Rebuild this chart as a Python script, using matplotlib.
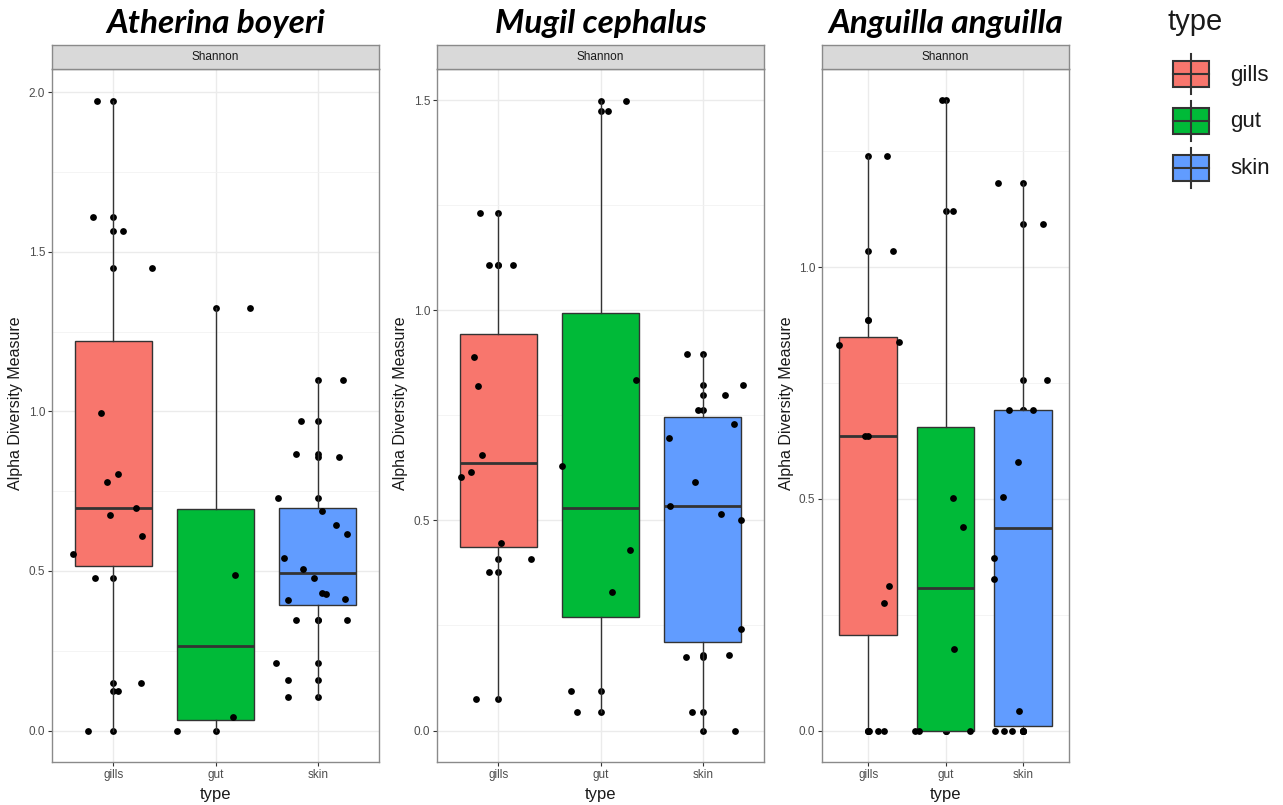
# Shannon alpha diversity per tissue type for three fish species
# boxplot + centre points + jittered points, ggplot theme_bw look

import matplotlib
matplotlib.use('Agg')
import matplotlib.pyplot as plt
from matplotlib.patches import Rectangle
from matplotlib.ticker import MultipleLocator, FormatStrFormatter

plt.rcParams['font.family'] = ['Liberation Sans', 'DejaVu Sans']

species = ['Atherina boyeri', 'Mugil cephalus', 'Anguilla anguilla']
types = ['gills', 'gut', 'skin']
colors = ['#F8766D', '#00BA38', '#619CFF']

# Atherina boyeri
ab_gills = [1.974, 1.61, 1.565, 1.448, 0.994, 0.803, 0.778, 0.697, 0.674, 0.608, 0.554, 0.478, 0.149, 0.123, 0.0]
ab_gills_jit = [-0.164, -0.196, 0.098, 0.375, -0.118, 0.045, -0.066, 0.222, -0.036, 0.28, -0.396, -0.18, 0.27, 0.045, -0.25]
ab_gut = [1.323, 0.486, 0.042, 0.0]
ab_gut_jit = [0.337, 0.186, 0.176, -0.375]
ab_skin = [1.099, 0.970, 0.867, 0.856, 0.730, 0.687, 0.643, 0.616, 0.540, 0.506, 0.478, 0.431, 0.429, 0.411, 0.409, 0.345, 0.345, 0.210, 0.159, 0.105]
ab_skin_jit = [0.252, -0.16, -0.212, 0.206, -0.392, 0.046, 0.183, 0.288, -0.333, -0.147, -0.039, 0.046, 0.085, 0.265, -0.29, -0.212, 0.288, -0.408, -0.287, -0.287]

# Mugil cephalus
mc_gills = [1.231, 1.108, 1.108, 0.888, 0.819, 0.656, 0.616, 0.603, 0.447, 0.408, 0.377, 0.076]
mc_gills_jit = [-0.179, -0.092, 0.146, -0.238, -0.195, -0.16, -0.27, -0.367, 0.022, 0.32, -0.092, -0.221]
mc_gut = [1.499, 1.473, 0.833, 0.629, 0.429, 0.330, 0.093, 0.043]
mc_gut_jit = [0.253, 0.075, 0.35, -0.375, 0.292, 0.111, -0.288, -0.233]
mc_skin = [0.896, 0.823, 0.798, 0.762, 0.729, 0.695, 0.591, 0.535, 0.514, 0.502, 0.242, 0.179, 0.174, 0.043, 0.0]
mc_skin_jit = [-0.152, 0.39, 0.218, -0.049, 0.307, -0.331, -0.074, -0.318, 0.183, 0.371, 0.371, 0.257, -0.168, -0.1, 0.32]

# Anguilla anguilla
aa_gills = [1.241, 1.036, 0.886, 0.838, 0.832, 0.636, 0.636, 0.313, 0.276, 0.0, 0.0, 0.0]
aa_gills_jit = [0.245, 0.314, 0.0, 0.394, -0.38, -0.04, 0.0, 0.27, 0.205, 0.01, 0.12, 0.205]
aa_gut = [1.360, 1.121, 0.501, 0.439, 0.175, 0.0, 0.0, 0.0]
aa_gut_jit = [-0.042, 0.103, 0.103, 0.223, 0.115, -0.397, -0.346, 0.321]
aa_skin = [1.182, 1.093, 0.757, 0.692, 0.692, 0.580, 0.503, 0.372, 0.328, 0.042, 0.0, 0.0, 0.0, 0.0]
aa_skin_jit = [-0.315, 0.265, 0.316, -0.18, 0.128, -0.064, -0.256, -0.372, -0.372, -0.05, -0.36, -0.245, -0.141, 0.0]

panels = [
    ([ab_gills, ab_gut, ab_skin], [ab_gills_jit, ab_gut_jit, ab_skin_jit]),
    ([mc_gills, mc_gut, mc_skin], [mc_gills_jit, mc_gut_jit, mc_skin_jit]),
    ([aa_gills, aa_gut, aa_skin], [aa_gills_jit, aa_gut_jit, aa_skin_jit]),
]

W, H = 1283, 805
fig = plt.figure(figsize=(W / 100, H / 100), dpi=100)

# panel extents in pixels (left, right); strip 45-69, plot 69-762
lefts = [52, 437, 822]
rights = [379, 764, 1069]
strip_top, plot_top, plot_bot = 45, 69, 762

def fx(px):
    return px / W

def fy(py):
    return 1 - py / H

edge = '#333333'
border = '#8a8a8a'

for k, (vals, jits) in enumerate(panels):
    l, r = lefts[k], rights[k]
    ax = fig.add_axes([fx(l), fy(plot_bot), fx(r - l), (plot_bot - plot_top) / H])
    sax = fig.add_axes([fx(l), fy(plot_top), fx(r - l), (plot_top - strip_top) / H])

    for i in range(3):
        # centre points (mostly hidden by the box)
        ax.scatter([i] * len(vals[i]), vals[i], s=24, color='black', zorder=2, linewidths=0)
        ax.boxplot(vals[i], positions=[i], widths=0.75, patch_artist=True,
                   showfliers=False, showcaps=False, whis=1.5, zorder=3,
                   boxprops=dict(facecolor=colors[i], edgecolor=edge, linewidth=1.0),
                   whiskerprops=dict(color=edge, linewidth=1.0),
                   medianprops=dict(color=edge, linewidth=2.0))
        ax.scatter([i + j for j in jits[i]], vals[i], s=24, color='black', zorder=4, linewidths=0)

    hi = max(max(v) for v in vals)
    pad = 0.05 * hi
    ax.set_ylim(-pad, hi + pad)
    ax.set_xlim(-0.6, 2.6)
    ax.set_xticks(range(3))
    ax.set_xticklabels(types)
    ax.yaxis.set_major_locator(MultipleLocator(0.5))
    ax.yaxis.set_minor_locator(MultipleLocator(0.25))
    ax.yaxis.set_major_formatter(FormatStrFormatter('%.1f'))
    ax.set_axisbelow(True)
    ax.grid(True, which='major', color='#EBEBEB', linewidth=1.0)
    ax.grid(True, which='minor', axis='y', color='#F2F2F2', linewidth=0.6)
    ax.tick_params(which='major', length=3, width=0.8, color=edge, labelcolor='#4D4D4D',
                   labelsize=8.5, pad=2)
    ax.tick_params(which='minor', length=0)
    for sp in ax.spines.values():
        sp.set_color(border)
        sp.set_linewidth(1.0)
    ax.set_xlabel('type', fontsize=12, labelpad=4, color='#1A1A1A')

    sax.set_facecolor('#D9D9D9')
    sax.set_xticks([])
    sax.set_yticks([])
    for sp in sax.spines.values():
        sp.set_color(border)
        sp.set_linewidth(1.0)
    sax.text(0.5, 0.5, 'Shannon', ha='center', va='center', fontsize=8.5,
             color='#1A1A1A', transform=sax.transAxes)

    # y label, centred on strip + panel
    fig.text(fx(l - 36), fy((strip_top + plot_bot) / 2), 'Alpha Diversity Measure',
             rotation=90, ha='center', va='center', fontsize=11.5, color='#1A1A1A')

    fig.text(fx((l + r) / 2), fy(23), species[k], ha='center', va='center',
             fontsize=24, fontweight='bold', style='italic',
             family=['Lato', 'DejaVu Sans'])

# legend drawn as small boxplot keys
lax = fig.add_axes([0, 0, 1, 1])
lax.set_xlim(0, W)
lax.set_ylim(H, 0)
lax.axis('off')
lax.text(1168, 22, 'type', ha='left', va='center', fontsize=21, color='#1A1A1A')
key_y = [74, 121, 168]
for i, t in enumerate(types):
    yc = key_y[i]
    lax.plot([1191, 1191], [yc - 20, yc + 20], color=edge, lw=1.5)
    lax.add_patch(Rectangle((1173, yc - 13), 36, 26, facecolor=colors[i], edgecolor=edge, lw=1.5))
    lax.plot([1173, 1209], [yc, yc], color=edge, lw=1.5)
    lax.text(1230, yc + 1, t, ha='left', va='center', fontsize=16, color='#1A1A1A')

fig.savefig('out.png', dpi=100)
